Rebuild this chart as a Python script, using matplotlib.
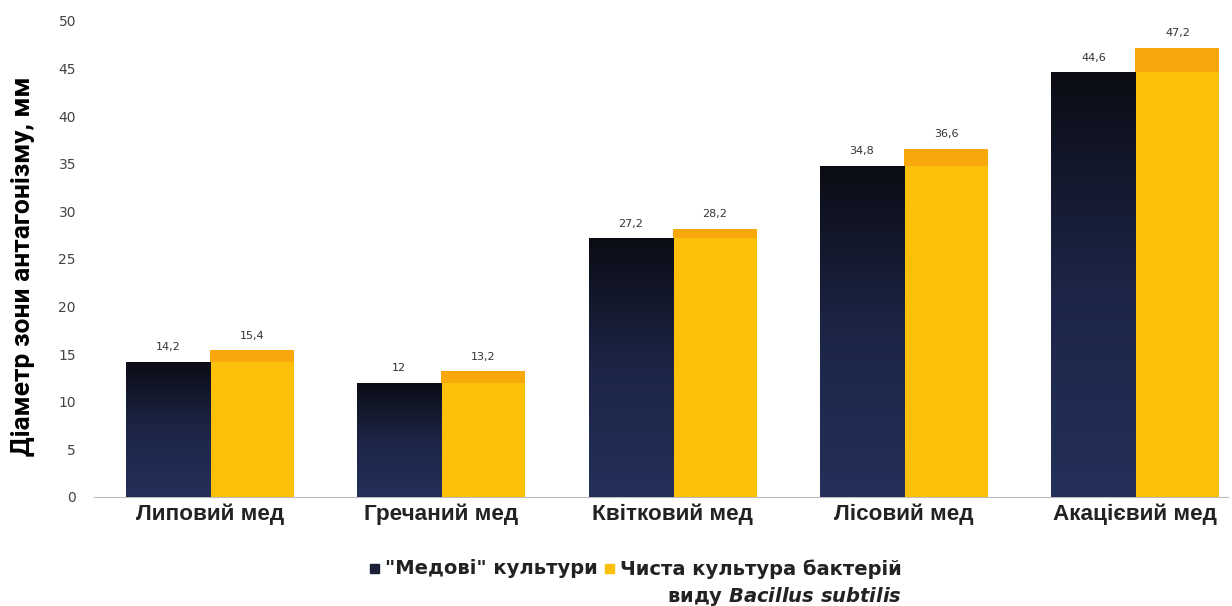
import numpy as np
import matplotlib
matplotlib.use("Agg")
import matplotlib.pyplot as plt
from matplotlib.colors import LinearSegmentedColormap
from matplotlib.patches import Rectangle

# honey types and zone diameters, mm
honeys = ["Липовий мед", "Гречаний мед", "Квітковий мед", "Лісовий мед", "Акацієвий мед"]
honey_cultures = [14.2, 12, 27.2, 34.8, 44.6]
pure_culture = [15.4, 13.2, 28.2, 36.6, 47.2]
value_labels_dark = ["14,2", "12", "27,2", "34,8", "44,6"]
value_labels_yellow = ["15,4", "13,2", "28,2", "36,6", "47,2"]
yticks = np.arange(0, 51, 5)
legend_labels = ['"Медові" культури', 'Чиста культура бактерій\nвиду $\\mathit{Bacillus\\ subtilis}$']

plt.rcParams['mathtext.fontset'] = 'custom'
plt.rcParams['mathtext.it'] = 'DejaVu Sans:italic:bold'

W, H = 1232, 606
fig = plt.figure(figsize=(W / 100, H / 100), dpi=100)
ax = fig.add_axes([94 / W, 109 / H, 1134 / W, 476 / H])

x = np.arange(len(honeys))
w = 0.363
dark_col = '#1b2038'
yel_col = '#fcbf0a'
dark = ax.bar(x - w / 2, honey_cultures, w, color=dark_col, zorder=2)
yel = ax.bar(x + w / 2, pure_culture, w, color=yel_col, zorder=2)
# darker orange cap above the neighbouring bar height
ax.bar(x + w / 2, np.array(pure_culture) - np.array(honey_cultures), w,
       bottom=honey_cultures, color='#f8a80a', zorder=3)

# vertical gradient on dark bars
cmap = LinearSegmentedColormap.from_list('navy', ['#0b0c14', '#1c2546', '#24305a'])
grad = np.linspace(0, 1, 256).reshape(-1, 1)
for b in dark:
    x0, y0 = b.get_x(), b.get_y()
    im = ax.imshow(grad, cmap=cmap, aspect='auto', origin='upper',
                   extent=[x0, x0 + b.get_width(), y0, y0 + b.get_height()], zorder=2.5)
    im.set_clip_path(b)

for i in range(len(honeys)):
    ax.text(x[i] - w / 2, honey_cultures[i] + 1.0, value_labels_dark[i], ha='center', va='bottom',
            fontsize=8, color='#333333')
    ax.text(x[i] + w / 2, pure_culture[i] + 1.0, value_labels_yellow[i], ha='center', va='bottom',
            fontsize=8, color='#333333')

ax.set_xlim(-0.5, 4.4)
ax.set_ylim(0, 50)
ax.set_yticks(yticks)
ax.set_yticklabels([str(t) for t in yticks], fontsize=10, color='#444444')
ax.set_xticks(x)
ax.set_xticklabels(honeys, fontsize=16.2, fontweight='bold', color='#222222',
                   family='Liberation Sans')
ax.tick_params(axis='both', length=0)
ax.tick_params(axis='y', pad=13)
ax.tick_params(axis='x', pad=5)
for s in ['top', 'right', 'left']:
    ax.spines[s].set_visible(False)
ax.spines['bottom'].set_color('#bbbbbb')
ax.spines['bottom'].set_zorder(1)

ax.set_ylabel("Діаметр зони антагонізму, мм", fontsize=19, fontweight='bold',
              family=['Liberation Sans Narrow', 'Roboto', 'DejaVu Sans'])
ax.yaxis.set_label_coords(-0.052, 0.485)

# legend below the axes, drawn by hand
sq = 9
lx = [370, 605]
tx = [385, 620]
for col, l, t, lab in zip([dark_col, yel_col], lx, tx, legend_labels):
    fig.patches.append(Rectangle((l / W, 1 - 573 / H), sq / W, sq / H, color=col,
                                 transform=fig.transFigure, figure=fig))
    fig.text(t / W, 1 - 559 / H, lab, ha='left', va='top', multialignment='right',
             fontsize=14, fontweight='bold', family='DejaVu Sans', color='#222222',
             linespacing=1.35)

fig.savefig("out.png", dpi=100)
